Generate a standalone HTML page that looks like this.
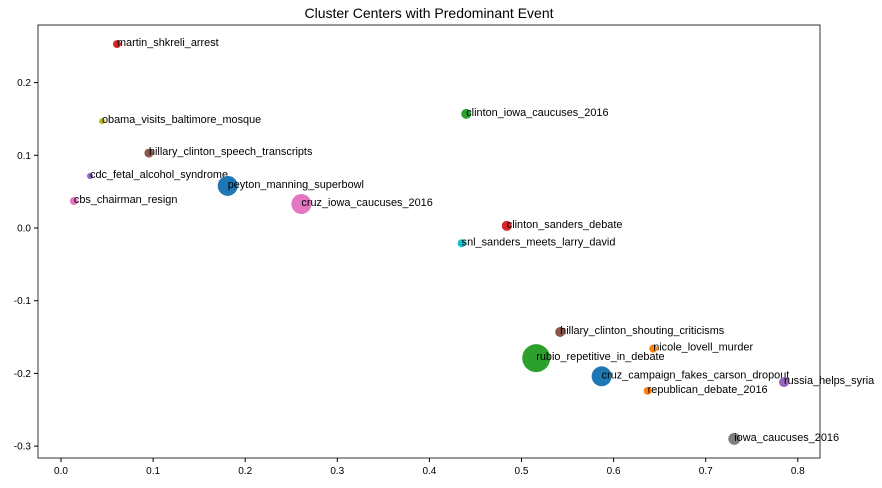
<!DOCTYPE html>
<html><head><meta charset="utf-8"><style>
body{margin:0;background:#fff;}
svg text{font-family:"Liberation Sans",sans-serif;}
</style></head><body>
<svg id="chart" width="882" height="483" xmlns="http://www.w3.org/2000/svg">
<rect width="882" height="483" fill="#fff"/>
<text x="429" y="18" font-size="14" text-anchor="middle">Cluster Centers with Predominant Event</text>
<g id="axes"></g>
<g id="points"></g>
</svg>
<script>
const labels=["martin_shkreli_arrest","obama_visits_baltimore_mosque","hillary_clinton_speech_transcripts","cdc_fetal_alcohol_syndrome","cbs_chairman_resign","peyton_manning_superbowl","cruz_iowa_caucuses_2016","clinton_iowa_caucuses_2016","clinton_sanders_debate","snl_sanders_meets_larry_david","hillary_clinton_shouting_criticisms","nicole_lovell_murder","rubio_repetitive_in_debate","cruz_campaign_fakes_carson_dropout","republican_debate_2016","russia_helps_syria","iowa_caucuses_2016"];
const xVals=[0.0608,0.0445,0.0955,0.0315,0.014,0.181,0.261,0.44,0.484,0.435,0.542,0.643,0.516,0.587,0.637,0.785,0.731];
const yVals=[0.253,0.147,0.103,0.0715,0.037,0.058,0.033,0.157,0.003,-0.021,-0.143,-0.166,-0.179,-0.204,-0.224,-0.212,-0.290];
const sizes=[4,3,4.5,3,4,10,10,5,5,4,5,4,14,10,4,5,6];
const colors=["#d62728","#bcbd22","#8c564b","#9467bd","#e377c2","#1f77b4","#e377c2","#2ca02c","#d62728","#17becf","#8c564b","#ff7f0e","#2ca02c","#1f77b4","#ff7f0e","#9467bd","#7f7f7f"];
const xTicks=[0,0.1,0.2,0.3,0.4,0.5,0.6,0.7,0.8];
const yTicks=[0.2,0.1,0,-0.1,-0.2,-0.3];
const NS="http://www.w3.org/2000/svg";
const L=38,R=820,T=25,B=458;
const sx=v=>61+v*921, sy=v=>228-v*727;
const ax=document.getElementById('axes'), pg=document.getElementById('points');
function mk(tag,attrs,parent){const e=document.createElementNS(NS,tag);for(const k in attrs)e.setAttribute(k,attrs[k]);parent.appendChild(e);return e;}
const frame=mk('rect',{x:L,y:T,width:R-L,height:B-T,fill:'none',stroke:'#000','stroke-width':0.8},ax);


xTicks.forEach(v=>{const x=sx(v);
 const t=mk('line',{x1:x,x2:x,y1:B,y2:B+4,stroke:'#000'},ax);
 
 
 const l=mk('text',{x:x,y:B+16,'font-size':10,'text-anchor':'middle'},ax);l.textContent=v.toFixed(1);
 
 });
yTicks.forEach(v=>{const y=sy(v);
 const t=mk('line',{x1:L-4,x2:L,y1:y,y2:y,stroke:'#000'},ax);
 
 
 const l=mk('text',{x:L-7,y:y+3.5,'font-size':10,'text-anchor':'end'},ax);l.textContent=v.toFixed(1);
 
 });
labels.forEach((n,i)=>{const x=sx(xVals[i]),y=sy(yVals[i]);
 const c=mk('circle',{cx:x,cy:y,r:sizes[i],fill:colors[i]},pg);
 
 
 const t=mk('text',{x:x,y:y+2,'font-size':10.9},pg);t.textContent=n;
 
 });
</script>
</body></html>
